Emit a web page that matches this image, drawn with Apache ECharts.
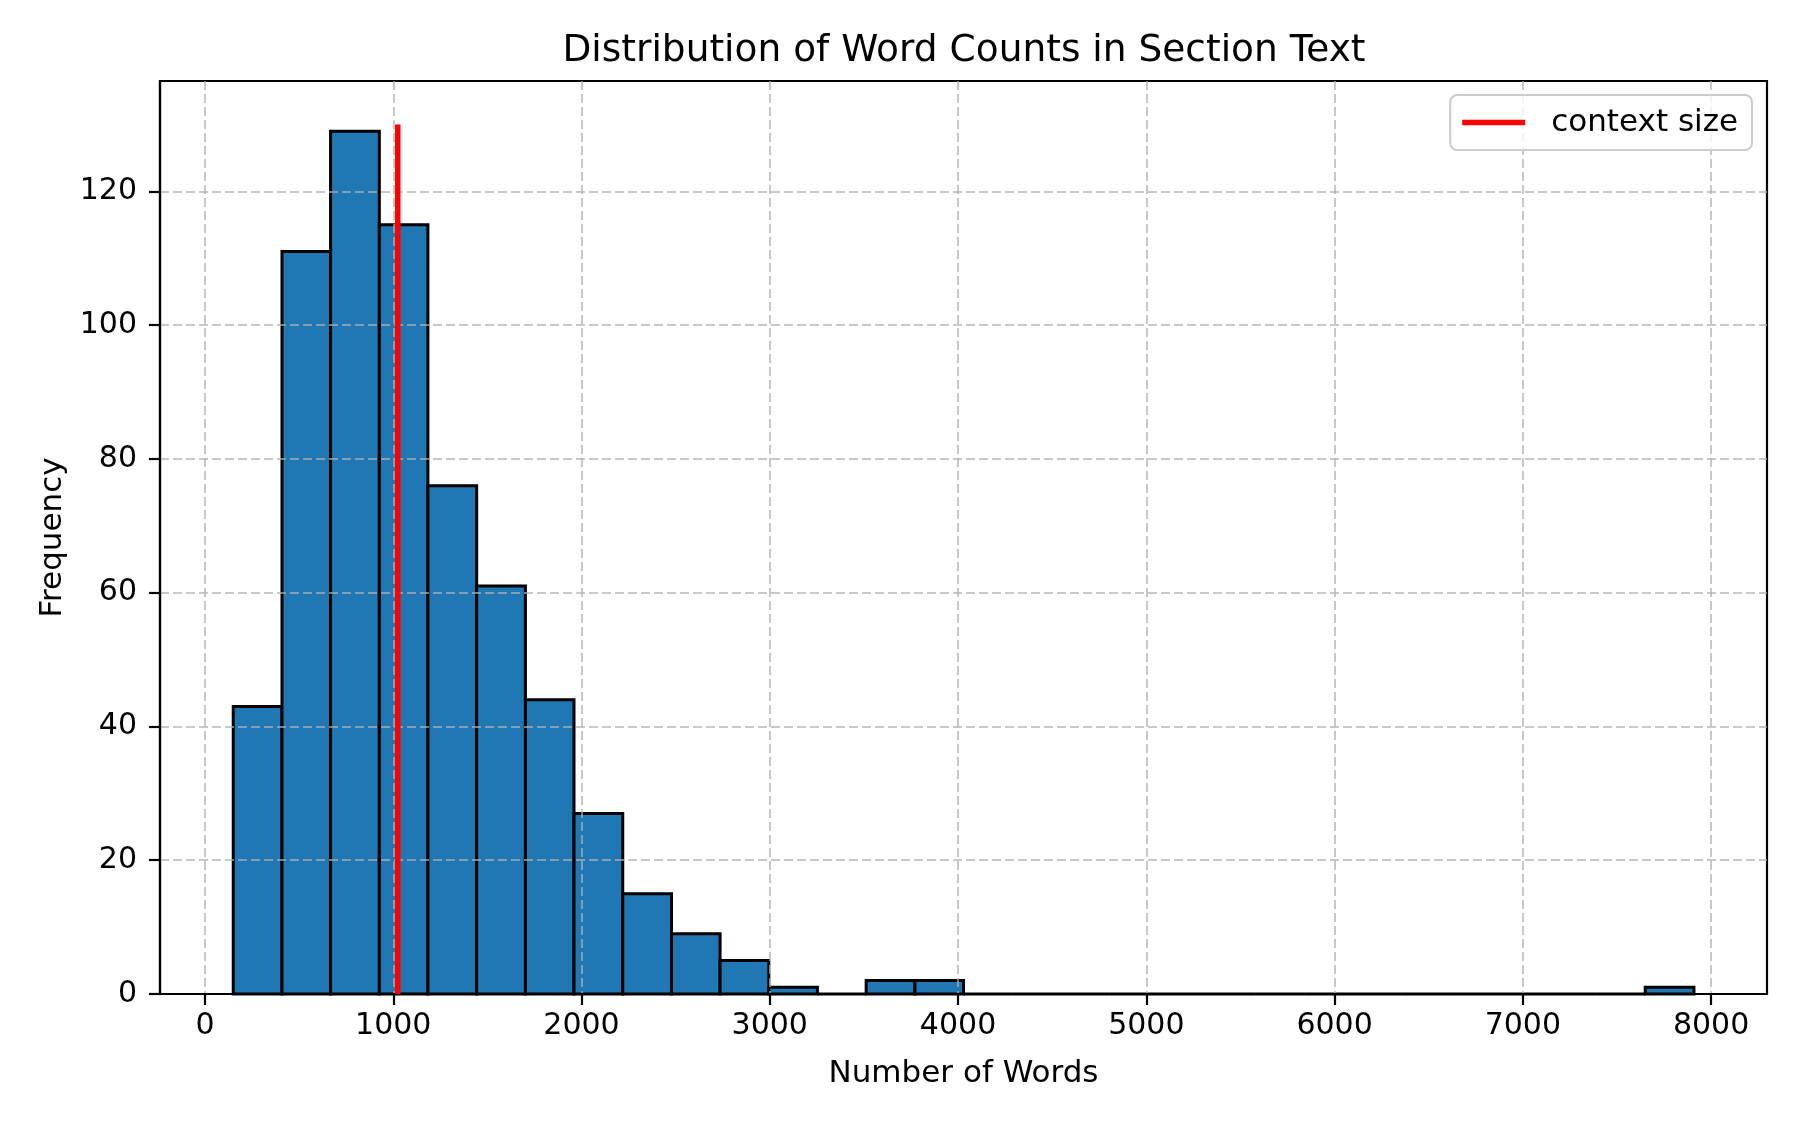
<!DOCTYPE html>
<html>
<head>
<meta charset="utf-8">
<script src="https://cdn.jsdelivr.net/npm/echarts@6/dist/echarts.min.js"></script>
<style>
html,body{margin:0;padding:0;background:#fff;}
#chart{width:1800px;height:1125px;}
</style>
</head>
<body>
<div id="chart"></div>
<script>
// Histogram bin edges (Number of Words)
const binEdges = [150, 409, 667, 926, 1184, 1443, 1702, 1960, 2219, 2478, 2736, 2995, 3253, 3512, 3771, 4029, 4288, 4546, 4805, 5064, 5322, 5581, 5840, 6098, 6357, 6615, 6874, 7133, 7391, 7650, 7909];
// Frequencies per bin
const binCounts = [43, 111, 129, 115, 76, 61, 44, 27, 15, 9, 5, 1, 0, 2, 2, 0, 0, 0, 0, 0, 0, 0, 0, 0, 0, 0, 0, 0, 0, 1];
// Context size marker
const contextSize = 1024;
const contextLineTop = 130;
// Tick labels
const xTicks = [0, 1000, 2000, 3000, 4000, 5000, 6000, 7000, 8000];
const yTicks = [0, 20, 40, 60, 80, 100, 120];

const histData = binCounts.map((c, i) => [binEdges[i], binEdges[i + 1], c]);

const FONT = 'DejaVu Sans';
const chart = echarts.init(document.getElementById('chart'), null, {renderer: 'canvas'});

const gridLine = {show: true, lineStyle: {color: 'rgba(176,176,176,0.7)', width: 2, type: [9, 4]}};

chart.setOption({
  animation: false,
  backgroundColor: '#ffffff',
  title: {
    text: 'Distribution of Word Counts in Section Text',
    left: 964,
    textAlign: 'center',
    top: 32,
    padding: 0,
    textStyle: {fontFamily: FONT, fontSize: 37.5, fontWeight: 'normal', color: '#000'}
  },
  legend: {
    data: ['context size'],
    right: 48,
    top: 95,
    orient: 'vertical',
    padding: [12, 14, 12, 12],
    borderColor: '#cccccc',
    borderWidth: 2,
    borderRadius: 7,
    backgroundColor: 'rgba(255,255,255,0.8)',
    icon: 'rect',
    itemWidth: 63,
    itemHeight: 5.5,
    textStyle: {fontFamily: FONT, fontSize: 31, color: '#000', padding: [0, 0, 0, 21]}
  },
  grid: {
    left: 160, right: 33, top: 81, bottom: 131,
    show: true, borderColor: '#000', borderWidth: 2.2, backgroundColor: 'transparent'
  },
  xAxis: {
    type: 'value',
    min: -239,
    max: 8297,
    z: 3,
    name: 'Number of Words',
    nameLocation: 'middle',
    nameGap: 64,
    nameTextStyle: {fontFamily: FONT, fontSize: 31, color: '#000'},
    axisLine: {show: true, onZero: false, lineStyle: {color: '#000', width: 2.2}},
    axisTick: {show: true, length: 11, lineStyle: {color: '#000', width: 2.2}, customValues: xTicks},
    axisLabel: {fontFamily: FONT, fontSize: 30, color: '#000', margin: 17, customValues: xTicks,
      formatter: v => String(v)},
    splitLine: gridLine
  },
  yAxis: {
    type: 'value',
    min: 0,
    max: 136.5,
    z: 3,
    name: 'Frequency',
    nameLocation: 'middle',
    nameGap: 92,
    nameTextStyle: {fontFamily: FONT, fontSize: 31, color: '#000'},
    axisLine: {show: true, onZero: false, lineStyle: {color: '#000', width: 2.2}},
    axisTick: {show: true, length: 11, lineStyle: {color: '#000', width: 2.2}, customValues: yTicks},
    axisLabel: {fontFamily: FONT, fontSize: 30, color: '#000', margin: 23, customValues: yTicks,
      formatter: v => String(v)},
    splitLine: gridLine
  },
  series: [
    {
      type: 'custom',
      name: 'hist',
      z: 2,
      data: histData,
      encode: {x: [0, 1], y: 2},
      renderItem: function (params, api) {
        const p0 = api.coord([api.value(0), api.value(2)]);
        const p1 = api.coord([api.value(1), 0]);
        return {
          type: 'rect',
          shape: {x: p0[0], y: p0[1], width: p1[0] - p0[0], height: p1[1] - p0[1]},
          style: {fill: '#1f77b4', stroke: '#000', lineWidth: 3}
        };
      }
    },
    {
      type: 'line',
      name: 'context size',
      z: 5,
      symbol: 'none',
      color: '#ff0000',
      lineStyle: {color: '#ff0000', width: 5.5},
      data: [[contextSize, 0], [contextSize, contextLineTop]]
    }
  ]
});
</script>
</body>
</html>
